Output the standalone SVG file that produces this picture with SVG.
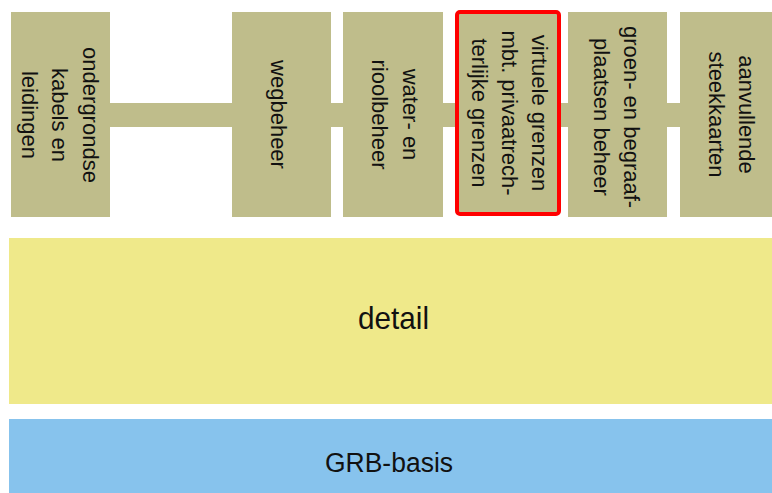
<svg xmlns="http://www.w3.org/2000/svg" width="772" height="493" viewBox="0 0 772 493">
<style>
.box{fill:#bfbd8b}
.vt{font-family:"Liberation Sans",Arial,sans-serif;font-size:22px;fill:#111;text-anchor:middle}
.lbl{font-family:"Liberation Sans",Arial,sans-serif;fill:#111;text-anchor:middle}
</style>
<rect width="772" height="493" fill="#ffffff"/>
<g id="connectors">
<rect x="11" y="103" width="761" height="24" class="box"/>
</g>
<g id="n1">
<rect x="11" y="12" width="99" height="205" class="box"/>
<text class="vt" transform="translate(82.5,115) rotate(90)"><tspan x="0" dy="0">ondergrondse</tspan><tspan x="0" dy="30.5">kabels en</tspan><tspan x="0" dy="30.5">leidingen</tspan></text>
</g>
<g id="n2">
<rect x="232" y="12" width="99" height="205" class="box"/>
<text class="vt" transform="translate(271,114.5) rotate(90)">wegbeheer</text>
</g>
<g id="n3">
<rect x="343" y="12" width="100" height="205" class="box"/>
<text class="vt" transform="translate(403,114.5) rotate(90)"><tspan x="0" dy="0">water- en</tspan><tspan x="0" dy="31">rioolbeheer</tspan></text>
</g>
<g id="n4">
<rect x="457" y="12" width="102" height="202" rx="3" class="box" stroke="#ff0000" stroke-width="4"/>
<text class="vt" transform="translate(531.5,113) rotate(90)"><tspan x="0" dy="0">virtuele grenzen</tspan><tspan x="0" dy="30">mbt. privaatrech-</tspan><tspan x="0" dy="30">terlijke grenzen</tspan></text>
</g>
<g id="n5">
<rect x="568" y="12" width="99" height="205" class="box"/>
<text class="vt" transform="translate(623.5,117) rotate(90)"><tspan x="0" dy="0">groen- en begraaf-</tspan><tspan x="0" dy="30">plaatsen beheer</tspan></text>
</g>
<g id="n6">
<rect x="680" y="12" width="92" height="205" class="box"/>
<text class="vt" transform="translate(738.5,114.5) rotate(90)"><tspan x="0" dy="0">aanvullende</tspan><tspan x="0" dy="30">steekkaarten</tspan></text>
</g>
<g id="detail">
<rect x="9" y="238" width="763" height="166" fill="#efe98a"/>
<text class="lbl" x="393.5" y="329" font-size="32" textLength="71" lengthAdjust="spacingAndGlyphs">detail</text>
</g>
<g id="grb">
<rect x="9" y="419" width="763" height="74" fill="#87c3ed"/>
<text class="lbl" x="389" y="472" font-size="27" textLength="128" lengthAdjust="spacingAndGlyphs">GRB-basis</text>
</g>
</svg>
